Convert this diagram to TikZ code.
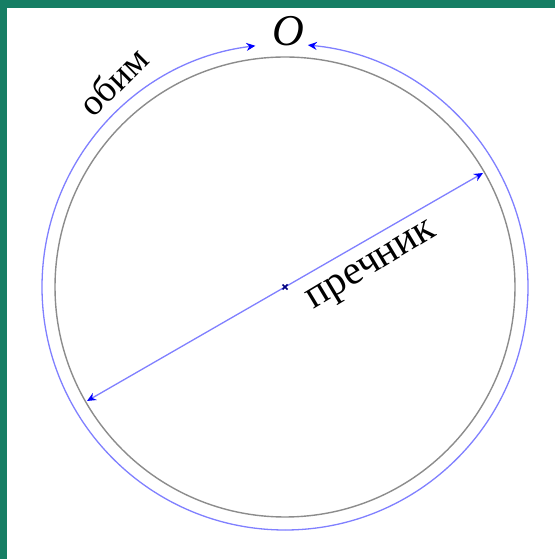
\documentclass[tikz,border=0pt]{standalone}
\usepackage{fontspec}
\setmainfont{Liberation Serif}
\usetikzlibrary{arrows.meta}
\definecolor{frame}{RGB}{22,126,100}
\definecolor{perimblue}{RGB}{128,128,255}
\definecolor{rimgray}{RGB}{140,140,140}

\begin{document}
\begin{tikzpicture}[x=1pt,y=1pt,
  rim/.style={draw=rimgray,line width=1.4pt},
  perim/.style={draw=perimblue,line width=1.3pt,-{Stealth[length=9pt,width=8pt,color=blue]}},
  diam/.style={draw=perimblue,line width=1.3pt,{Stealth[length=9pt,width=8pt,color=blue]}-{Stealth[length=9pt,width=8pt,color=blue]}},
  lbl/.style={inner sep=0pt}]
% frame
\fill[frame] (0,0) rectangle (555,559);
\fill[white] (7,0) rectangle (555,551);
\useasboundingbox (0,0) rectangle (555,559);
% circle
\coordinate (c) at (285,272);
\coordinate (bot) at (285,29);
\draw[rim] (c) circle[radius=230];
\draw[perim] (bot) arc[start angle=270,end angle=97,radius=243];
\draw[perim] (bot) arc[start angle=-90,end angle=84.6,radius=243];
% diameter
\coordinate (dA) at (87,158);
\coordinate (dB) at (483,386);
\draw[diam] (dA) -- (dB);
\draw[blue!50!black,line width=1.6pt] ([shift={(-2.5,-2.5)}]c) -- ([shift={(2.5,2.5)}]c)
  ([shift={(-2.5,2.5)}]c) -- ([shift={(2.5,-2.5)}]c);
% labels
\node[lbl,font=\fontsize{44}{44}\selectfont\itshape] (lblO) at (288,528) {O};
\node[lbl,font=\fontsize{37}{37}\selectfont,rotate=45] (lblObim) at (113,478) {обим};
\node[lbl,font=\fontsize{41}{41}\selectfont,rotate=31] (lblPrecnik) at (373,291) {пречник};
\end{tikzpicture}
\end{document}
